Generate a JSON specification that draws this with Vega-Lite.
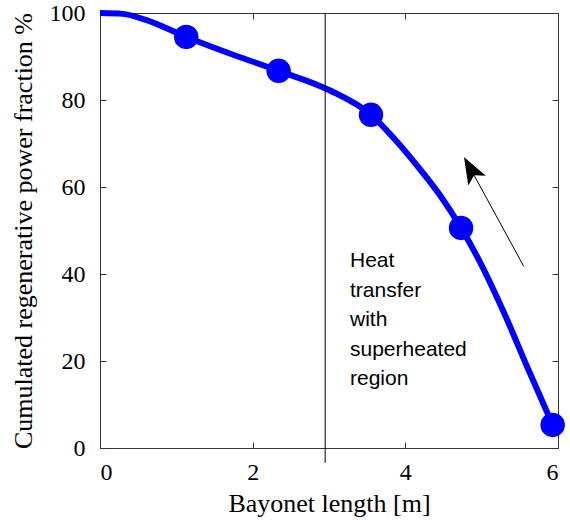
{
  "$schema": "https://vega.github.io/schema/vega-lite/v6.json",
  "autosize": {"type": "none"},
  "width": 458,
  "height": 435,
  "padding": {"left": 100, "top": 13, "right": 12, "bottom": 72},
  "background": "white",
  "config": {
    "view": {"stroke": "#333333", "strokeWidth": 1},
    "axis": {
      "domainColor": "#333333",
      "tickColor": "#333333",
      "tickSize": -6,
      "grid": false
    },
    "axisBottom": {"labelFont": "Liberation Serif", "labelFontSize": 24, "labelColor": "black"},
    "axisLeft": {"labelFont": "Liberation Serif", "labelFontSize": 24, "labelColor": "black"},
    "axisTop": {"labels": false, "title": null, "domain": false},
    "axisRight": {"labels": false, "title": null, "domain": false}
  },
  "datasets": {
    "curve": [
      {"x": 0, "y": 100},
      {"x": 0.3, "y": 99.8},
      {"x": 0.6, "y": 98.4},
      {"x": 1.13, "y": 94.5},
      {"x": 1.7, "y": 90.7},
      {"x": 2.34, "y": 86.7},
      {"x": 3.0, "y": 82.3},
      {"x": 3.55, "y": 76.6},
      {"x": 3.85, "y": 71.2},
      {"x": 4.15, "y": 65.0},
      {"x": 4.45, "y": 58.2},
      {"x": 4.73, "y": 50.6},
      {"x": 5.0, "y": 42.0},
      {"x": 5.3, "y": 30.8},
      {"x": 5.6, "y": 18.5},
      {"x": 5.93, "y": 5.3}
    ],
    "points": [
      {"x": 1.13, "y": 94.5},
      {"x": 2.34, "y": 86.7},
      {"x": 3.55, "y": 76.6},
      {"x": 4.73, "y": 50.6},
      {"x": 5.93, "y": 5.3}
    ],
    "vline": [{"x": 2.95, "y1": 100, "y2": -3.4}],
    "arrow": [{"x1": 5.55, "y1": 41.8, "x2": 4.854, "y2": 64.2}],
    "label": [{"x": 3.275, "y": 45.5, "t": ["Heat", "transfer", "with", "superheated", "region"]}]
  },
  "resolve": {"axis": {"x": "independent", "y": "independent"}},
  "layer": [
    {
      "data": {"name": "curve"},
      "mark": {"type": "line", "color": "#0000ff", "strokeWidth": 6, "interpolate": "monotone", "clip": false},
      "encoding": {
        "x": {"field": "x", "type": "quantitative", "scale": {"domain": [0, 6], "nice": false, "zero": false},
          "axis": {"orient": "bottom", "values": [0, 2, 4, 6], "title": "Bayonet length [m]", "labelPadding": 18, "titlePadding": 6,
            "labelFont": "Liberation Serif", "labelFontSize": 24, "labelColor": "black",
            "titleFont": "Liberation Serif", "titleFontSize": 26, "titleFontWeight": "normal", "titleColor": "black"}},
        "y": {"field": "y", "type": "quantitative", "scale": {"domain": [0, 100], "nice": false},
          "axis": {"orient": "left", "values": [0, 20, 40, 60, 80, 100], "title": "Cumulated regenerative power fraction %", "labelPadding": 21, "titlePadding": 13,
            "labelFont": "Liberation Serif", "labelFontSize": 24, "labelColor": "black",
            "titleFont": "Liberation Serif", "titleFontSize": 26, "titleFontWeight": "normal", "titleColor": "black"}}
      }
    },
    {
      "data": {"name": "curve"},
      "mark": {"type": "line", "opacity": 0},
      "encoding": {
        "x": {"field": "x", "type": "quantitative", "axis": {"orient": "top", "values": [0, 2, 4, 6], "labels": false, "title": null, "domain": false}},
        "y": {"field": "y", "type": "quantitative", "axis": {"orient": "right", "values": [0, 20, 40, 60, 80, 100], "labels": false, "title": null, "domain": false}}
      }
    },
    {
      "data": {"name": "points"},
      "mark": {"type": "point", "shape": "circle", "filled": true, "color": "#0000ff", "size": 600, "opacity": 1, "clip": false},
      "encoding": {
        "x": {"field": "x", "type": "quantitative", "axis": null},
        "y": {"field": "y", "type": "quantitative", "axis": null}
      }
    },
    {
      "data": {"name": "vline"},
      "mark": {"type": "rule", "color": "black", "strokeWidth": 1, "clip": false},
      "encoding": {
        "x": {"field": "x", "type": "quantitative", "axis": null},
        "y": {"field": "y1", "type": "quantitative", "axis": null},
        "y2": {"field": "y2"}
      }
    },
    {
      "data": {"name": "arrow"},
      "mark": {"type": "rule", "color": "black", "strokeWidth": 1},
      "encoding": {
        "x": {"field": "x1", "type": "quantitative", "axis": null},
        "y": {"field": "y1", "type": "quantitative", "axis": null},
        "x2": {"field": "x2"},
        "y2": {"field": "y2"}
      }
    },
    {
      "data": {"name": "arrow"},
      "mark": {"type": "point", "shape": "M0,-1L0.74,1L0,0.55L-0.74,1Z", "filled": true, "color": "black", "opacity": 1, "size": 729, "angle": 331},
      "encoding": {
        "x": {"field": "x2", "type": "quantitative", "axis": null},
        "y": {"field": "y2", "type": "quantitative", "axis": null}
      }
    },
    {
      "data": {"name": "label"},
      "mark": {"type": "text", "font": "Liberation Sans", "fontSize": 21, "align": "left", "baseline": "top", "lineHeight": 29.5, "color": "black"},
      "encoding": {
        "x": {"field": "x", "type": "quantitative", "axis": null},
        "y": {"field": "y", "type": "quantitative", "axis": null},
        "text": {"field": "t"}
      }
    }
  ]
}
